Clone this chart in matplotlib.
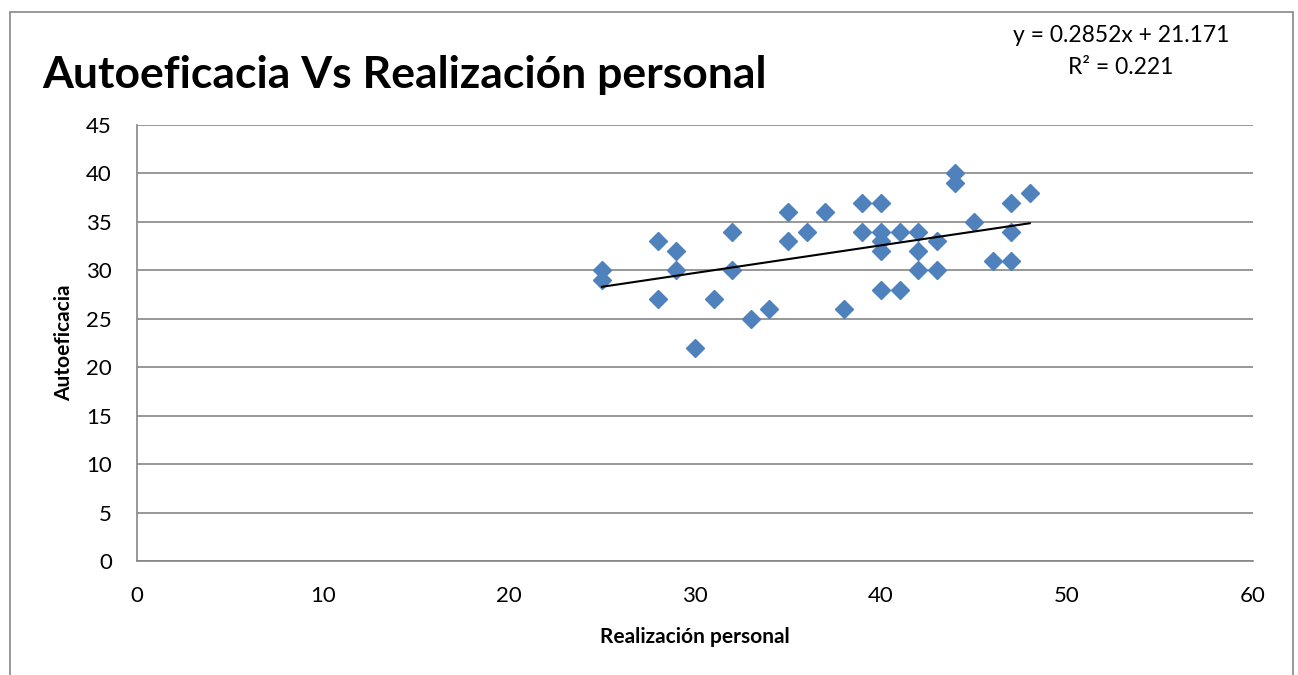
import matplotlib
matplotlib.use("Agg")
import matplotlib.pyplot as plt
from matplotlib.patches import Rectangle

plt.rcParams['font.family'] = ['Lato', 'DejaVu Sans']

realizacion = [25, 25, 28, 28, 29, 29, 30, 31, 32, 32, 33, 34, 35, 35, 36, 37, 38,
               39, 39, 40, 40, 40, 40, 40, 41, 41, 42, 42, 42, 43, 43, 44, 44, 45,
               46, 47, 47, 47, 48]
autoeficacia = [30, 29, 33, 27, 32, 30, 22, 27, 34, 30, 25, 26, 36, 33, 34, 36, 26,
                37, 34, 37, 34, 33, 32, 28, 34, 28, 34, 32, 30, 33, 30, 40, 39, 35,
                31, 37, 34, 31, 38]
slope = 0.2852
intercept = 21.171
r2 = 0.221
x_ticks = [0, 10, 20, 30, 40, 50, 60]
y_ticks = [0, 5, 10, 15, 20, 25, 30, 35, 40, 45]

fig = plt.figure(figsize=(12.98, 6.75), dpi=100)
fig.patches.append(Rectangle((10/1298, -0.01), 1283/1298, 1 - 12/675 + 0.01,
                             transform=fig.transFigure, fill=False,
                             edgecolor='#868686', linewidth=1.2))
ax = fig.add_axes([137/1298, 1 - 561/675, (1253 - 137)/1298, (561 - 125)/675])

ax.set_xlim(0, 60)
ax.set_ylim(0, 45)
ax.set_xticks(x_ticks)
ax.set_yticks(y_ticks)
ax.grid(axis='y', color='#868686', linewidth=1.2)
ax.set_axisbelow(True)
for s in ['top', 'right']:
    ax.spines[s].set_visible(False)
for s in ['left', 'bottom']:
    ax.spines[s].set_color('#868686')
    ax.spines[s].set_linewidth(1.2)
ax.tick_params(axis='both', labelcolor='black', labelsize=16, length=0)
ax.tick_params(axis='x', pad=18)
ax.tick_params(axis='y', pad=18)

ax.plot(realizacion, autoeficacia, linestyle='none', marker='D', markersize=9.5,
        color='#4F81BD', zorder=3)
xmin, xmax = min(realizacion), max(realizacion)
ax.plot([xmin, xmax], [slope * xmin + intercept, slope * xmax + intercept],
        color='black', linewidth=1.5, zorder=4)

ax.set_xlabel('Realización personal', fontsize=15, fontweight='bold', labelpad=15)
ax.set_ylabel('Autoeficacia', fontsize=15, fontweight='bold', labelpad=9)

fig.text(42/1298, 1 - 75/675, 'Autoeficacia Vs Realización personal', fontsize=32,
         fontweight='bold', ha='left', va='center')
fig.text(1121/1298, 1 - 36/675, f'y = {slope}x + {intercept}', fontsize=16.5,
         ha='center', va='center')
fig.text(1121/1298, 1 - 67/675, f'R² = {r2}', fontsize=16.5, ha='center', va='center')

fig.savefig('out.png', dpi=100)
